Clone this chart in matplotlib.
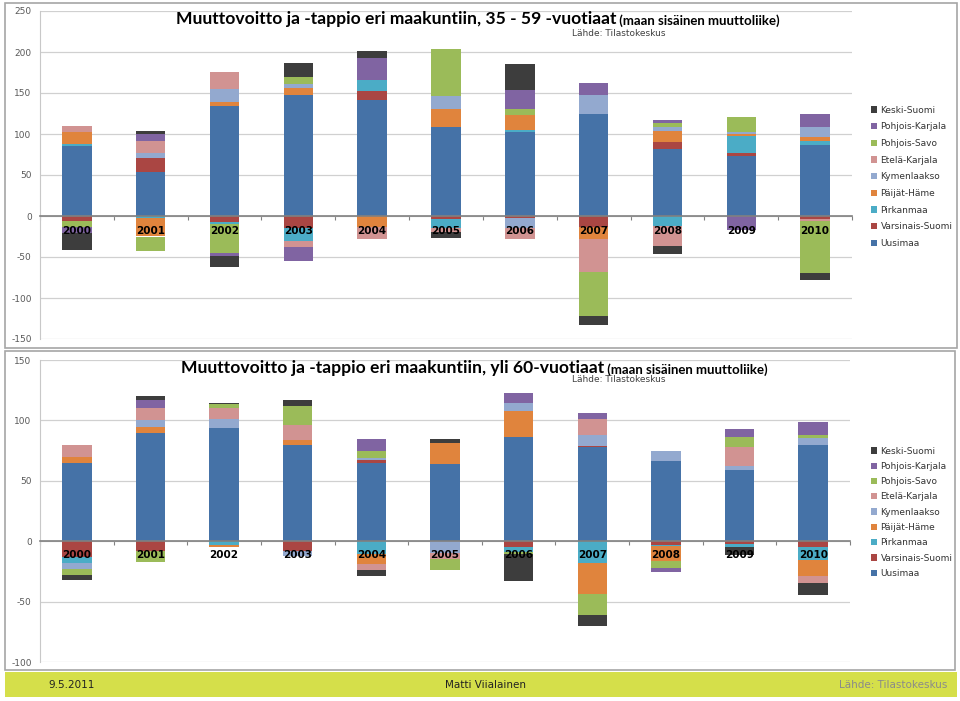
import numpy as np
import matplotlib
matplotlib.use('Agg')
import matplotlib.pyplot as plt
from matplotlib.patches import Rectangle, Patch

plt.rcParams['axes.unicode_minus'] = False

years = ['2000', '2001', '2002', '2003', '2004', '2005', '2006', '2007', '2008', '2009', '2010']
regions = ['Uusimaa', 'Varsinais-Suomi', 'Pirkanmaa', 'Päijät-Häme', 'Kymenlaakso',
           'Etelä-Karjala', 'Pohjois-Savo', 'Pohjois-Karjala', 'Keski-Suomi']
colors = ['#4572A7', '#AA4643', '#4BACC6', '#E0843D', '#93A9CF',
          '#D19392', '#9BBB59', '#8064A2', '#3D3D3D']

# 35 - 59 -vuotiaat
uusimaa_a = [85, 54, 134, 148, 142, 108, 102, 125, 82, 73, 87]
varsinais_a = [-6, 17, -7, -15, 11, -4, -3, -14, 8, 4, -4]
pirkanmaa_a = [3, -3, -3, -16, 13, -11, 3, 0, -12, 20, 4]
paijat_a = [15, -22, 5, 8, -14, 22, 18, -14, 14, 3, 5]
kymen_a = [0, 6, 16, 5, 0, 16, -12, 23, 5, 2, 12]
etela_a = [7, 14, 20, -7, -14, -5, -13, -40, -24, 0, -2]
psavo_a = [-8, -18, -35, 8, 0, 58, 7, -54, 4, 19, -63]
pkarjala_a = [-7, 9, -4, -17, 27, 0, 24, 14, 4, -17, 16]
keski_a = [-20, 4, -13, 17, 8, -7, 31, -11, -10, 0, -9]

# yli 60-vuotiaat
uusimaa_b = [65, 89.5, 94, 80, 64.5, 64, 86.5, 78, 66, 59, 80]
varsinais_b = [-13, -8, 0, -8.5, 2.7, 0, -5, 1, -3, -2, -5]
pirkanmaa_b = [-5, 0, -3, 0, -10.5, 0, -4, -18, -1, -3, -10.5]
paijat_b = [5, 5, -2, 3.6, -8.5, 17.5, 21, -26, -12, 0, -13]
kymen_b = [-5, 6, 7, -3.5, 1.6, -9.5, 7, 9, 9, 3.3, 5.5]
etela_b = [10, 10, 9.5, 13, -5, -5, 0, 13.5, 0, 16, -6.5]
psavo_b = [-5, -9.5, 3, 15, 6, -9.5, -2, -17, -6, 8.3, 2.2]
pkarjala_b = [0, 6.5, 0, 0, 9.5, 0, 8, 5, -3.3, 6.3, 11.3]
keski_b = [-4, 3, 1, 5, -4.5, 3.3, -22, -9, 0, -6.5, -9.5]

series_a = [uusimaa_a, varsinais_a, pirkanmaa_a, paijat_a, kymen_a, etela_a, psavo_a, pkarjala_a, keski_a]
series_b = [uusimaa_b, varsinais_b, pirkanmaa_b, paijat_b, kymen_b, etela_b, psavo_b, pkarjala_b, keski_b]

W, H = 960, 701


def rect(l, t, r, b):
    return [l / W, 1 - b / H, (r - l) / W, (b - t) / H]


fig = plt.figure(figsize=(9.6, 7.01), dpi=100)

# paneelien reunat ja alapalkki
fig.patches.append(Rectangle((5 / W, 1 - 348 / H), 952 / W, 345 / H, transform=fig.transFigure,
                             facecolor='none', edgecolor='#A6A6A6', lw=1.2, zorder=-1))
fig.patches.append(Rectangle((5 / W, 1 - 670 / H), 950 / W, 319 / H, transform=fig.transFigure,
                             facecolor='none', edgecolor='#A6A6A6', lw=1.2, zorder=-1))
fig.patches.append(Rectangle((5 / W, 1 - 697 / H), 952 / W, 25 / H, transform=fig.transFigure,
                             facecolor='#D5DF4A', edgecolor='none', zorder=-1))
fig.text(48 / W, 1 - 685 / H, '9.5.2011', fontsize=7.5, va='center', color='#222222')
fig.text(445 / W, 1 - 685 / H, 'Matti Viialainen', fontsize=7.5, va='center', color='#222222')
fig.text(947 / W, 1 - 685 / H, 'Lähde: Tilastokeskus', fontsize=7.5, va='center', ha='right', color='#8A8A8A')


def draw(ax, series, ylim, step, title, tx, ty, sy, label_y, legend_top, legend_gap):
    ax.patch.set_alpha(0)
    x = np.arange(len(years))
    pos = np.zeros(len(years))
    neg = np.zeros(len(years))
    for vals, col in zip(series, colors):
        v = np.array(vals, dtype=float)
        bottom = np.where(v >= 0, pos, neg)
        ax.bar(x, v, 0.4, bottom=bottom, color=col, zorder=3)
        pos = pos + np.where(v >= 0, v, 0)
        neg = neg + np.where(v < 0, v, 0)
    ax.set_xlim(-0.5, len(years) - 0.5)
    ax.set_ylim(*ylim)
    ax.set_yticks(np.arange(ylim[0], ylim[1] + 1, step))
    ax.tick_params(axis='y', labelsize=6.5, colors='#595959', length=0, pad=6)
    ax.yaxis.grid(True, color='#D0D0D0', lw=0.9, zorder=0)
    ax.set_axisbelow(True)
    for s in ['top', 'right']:
        ax.spines[s].set_visible(False)
    ax.spines['left'].set_color('#C8C8C8')
    ax.spines['bottom'].set_position(('data', 0))
    ax.spines['bottom'].set_color('#808080')
    ax.spines['bottom'].set_linewidth(1.2)
    ax.spines['bottom'].set_zorder(4)
    ax.set_xticks(np.arange(-0.5, len(years), 1.0))
    ax.set_xticklabels([])
    ax.tick_params(axis='x', length=3, color='#808080', direction='out')
    for i, yr in enumerate(years):
        ax.text(i, label_y, yr, ha='center', va='center', fontsize=7.5, fontweight='bold',
                color='black', zorder=5)
    t1 = fig.text(tx / W, 1 - ty / H, title, fontsize=12.6, fontweight='bold', va='center',
                  family='Lato')
    ax.annotate(' (maan sisäinen muuttoliike)', xy=(1, 0), xycoords=t1, fontsize=9.5,
                fontweight='bold', va='bottom', ha='left', family='Lato')
    fig.text(572 / W, 1 - sy / H, 'Lähde: Tilastokeskus', fontsize=6.5, va='center', color='#404040')
    handles = [Patch(facecolor=c, label=r) for r, c in zip(regions, colors)][::-1]
    fig.legend(handles=handles, loc='upper left', bbox_to_anchor=(866 / W, 1 - legend_top / H),
               frameon=False, fontsize=6.5, handlelength=0.7, handleheight=0.7,
               handletextpad=0.4, labelspacing=legend_gap, borderpad=0, labelcolor='#333333')


ax1 = fig.add_axes(rect(40, 11, 852, 339))
draw(ax1, series_a, (-150, 250), 50,
     'Muuttovoitto ja -tappio eri maakuntiin, 35 - 59 -vuotiaat',
     176, 19, 34, -18, 101, 0.85)

ax2 = fig.add_axes(rect(40, 360, 850, 662))
draw(ax2, series_b, (-100, 150), 50,
     'Muuttovoitto ja -tappio eri maakuntiin, yli 60-vuotiaat',
     181, 368, 380, -11.5, 442, 0.7)

plt.savefig('out.png', dpi=100)
